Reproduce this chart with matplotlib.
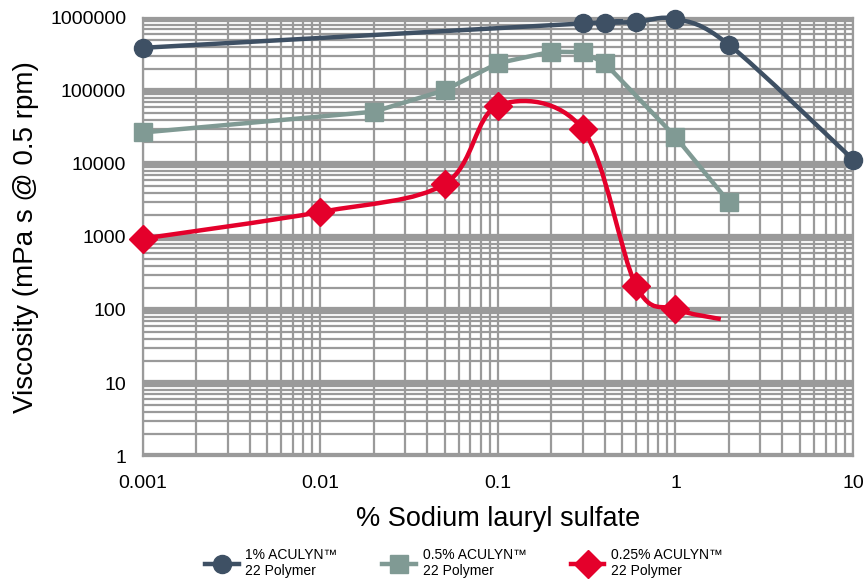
import numpy as np
import matplotlib.pyplot as plt
from matplotlib.path import Path
from matplotlib.patches import PathPatch
from matplotlib.lines import Line2D
from matplotlib.ticker import FixedLocator, LogLocator, NullFormatter

plt.rcParams['font.family'] = ['Liberation Sans', 'DejaVu Sans']

# data
sls_1 = [0.001, 0.3, 0.4, 0.6, 1.0, 2.0, 10.0]
visc_1 = [390000, 840000, 860000, 880000, 970000, 430000, 11500]

sls_05 = [0.001, 0.02, 0.05, 0.1, 0.2, 0.3, 0.4, 1.0, 2.0]
visc_05 = [27000, 52000, 102000, 240000, 345000, 340000, 240000, 23500, 3000]

sls_025 = [0.001, 0.01, 0.05, 0.1, 0.3, 0.6, 1.0, 1.8]
visc_025 = [950, 2200, 5300, 63000, 30000, 215, 103, 75]

labels = ['1% ACULYN\u2122\n22 Polymer', '0.5% ACULYN\u2122\n22 Polymer',
          '0.25% ACULYN\u2122\n22 Polymer']
xticks = [0.001, 0.01, 0.1, 1, 10]
yticks = [1, 10, 100, 1000, 10000, 100000, 1000000]

c_dark = '#3e5064'
c_green = '#809a94'
c_red = '#e4002b'


def smooth_path(x, y):
    # excel-style smoothed line: cubic bezier through points in log-log space
    lx = np.log10(x)
    ly = np.log10(y)
    n = len(lx)
    verts = [(lx[0], ly[0])]
    codes = [Path.MOVETO]
    for i in range(n - 1):
        i0 = max(i - 1, 0)
        i3 = min(i + 2, n - 1)
        c1 = (lx[i] + (lx[i + 1] - lx[i0]) / 6, ly[i] + (ly[i + 1] - ly[i0]) / 6)
        c2 = (lx[i + 1] - (lx[i3] - lx[i]) / 6, ly[i + 1] - (ly[i3] - ly[i]) / 6)
        verts += [c1, c2, (lx[i + 1], ly[i + 1])]
        codes += [Path.CURVE4] * 3
    verts = 10 ** np.array(verts)
    return Path(verts, codes)


fig = plt.figure(figsize=(8.66, 5.79), dpi=100)
ax = fig.add_axes([0.165, 0.2124, 0.82, 0.7566])
ax.set_xscale('log')
ax.set_yscale('log')
ax.set_xlim(0.001, 10)
ax.set_ylim(1, 1000000)

# grid
ax.set_axisbelow(True)
ax.xaxis.set_major_locator(FixedLocator(xticks))
ax.yaxis.set_major_locator(FixedLocator(yticks))
ax.xaxis.set_minor_locator(LogLocator(base=10, subs=np.arange(2, 10)))
ax.yaxis.set_minor_locator(LogLocator(base=10, subs=np.arange(2, 10)))
ax.xaxis.set_minor_formatter(NullFormatter())
ax.yaxis.set_minor_formatter(NullFormatter())
ax.grid(True, which='minor', color='#9a9a9a', lw=1.6)
ax.grid(True, which='major', axis='x', color='#9a9a9a', lw=1.6)
ax.grid(True, which='major', axis='y', color='#9a9a9a', lw=4.5)
ax.tick_params(which='both', length=0, labelsize=14)
ax.tick_params(axis='y', pad=12)
ax.tick_params(axis='x', pad=14)
ax.set_xticklabels(['0.001', '0.01', '0.1', '1', '10'])
ax.set_yticklabels(['1', '10', '100', '1000', '10000', '100000', '1000000'])
for s in ax.spines.values():
    s.set_color('#9a9a9a')
    s.set_linewidth(1.6)

# 1% series - smoothed
ax.add_patch(PathPatch(smooth_path(sls_1, visc_1), fill=False, ec=c_dark, lw=3.2,
                       zorder=3, clip_on=False))
ax.plot(sls_1, visc_1, 'o', color=c_dark, ms=13, zorder=4, clip_on=False)

# 0.5% series - straight
ax.plot(sls_05, visc_05, '-s', color=c_green, lw=3.2, ms=13, zorder=3, clip_on=False)

# 0.25% series - smoothed, last point without marker
ax.add_patch(PathPatch(smooth_path(sls_025, visc_025), fill=False, ec=c_red, lw=3.2,
                       zorder=3, clip_on=False))
ax.plot(sls_025[:-1], visc_025[:-1], 'D', color=c_red, ms=14, zorder=4, clip_on=False)

ax.set_xlabel('% Sodium lauryl sulfate', fontsize=19.5, labelpad=10)
ax.set_ylabel('Viscosity (mPa s @ 0.5 rpm)', fontsize=20, labelpad=8)

handles = [
    Line2D([], [], color=c_dark, lw=3.2, marker='o', ms=13),
    Line2D([], [], color=c_green, lw=3.2, marker='s', ms=13),
    Line2D([], [], color=c_red, lw=3.2, marker='D', ms=14),
]
fig.legend(handles, labels, loc='lower center', bbox_to_anchor=(0.536, -0.015), ncol=3,
           frameon=False, fontsize=10, handlelength=2.4, columnspacing=3.2,
           handletextpad=0.5, borderpad=0.2)

fig.savefig('out.png', dpi=100)
